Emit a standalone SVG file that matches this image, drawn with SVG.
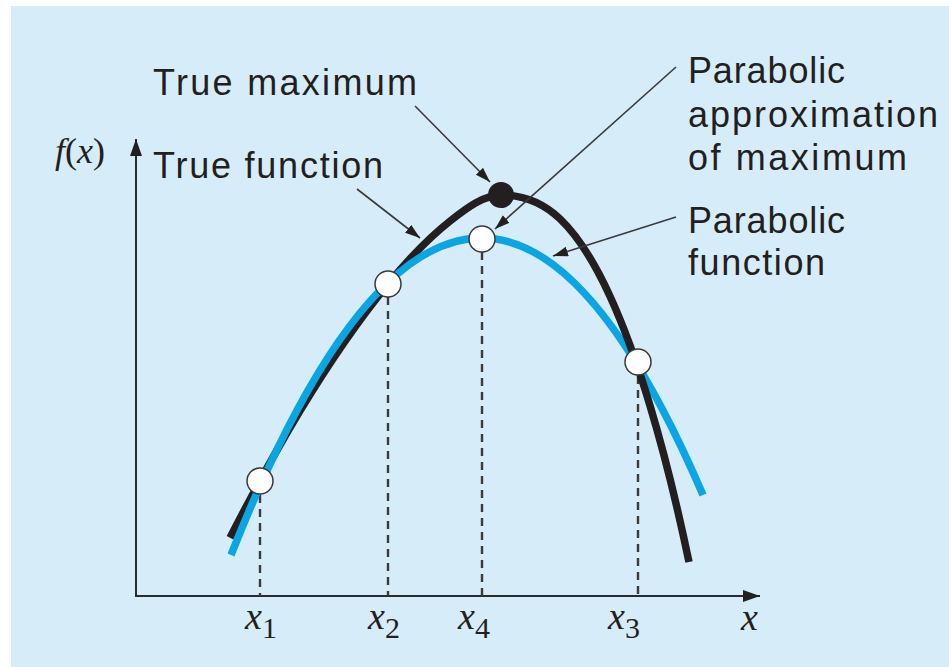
<svg xmlns="http://www.w3.org/2000/svg" width="949" height="667" viewBox="0 0 949 667">
<defs>
<style>
.lbl{font-family:"Liberation Sans",Arial,sans-serif;font-size:36px;fill:#231f20}
.math{font-family:"Liberation Serif","Times New Roman",serif;fill:#231f20}
.axis{stroke:#2a2a2a;stroke-width:2;fill:none}
.dash{stroke:#3a3a3a;stroke-width:2.4;stroke-dasharray:8 6;fill:none}
.ptr{stroke:#3a3a3a;stroke-width:1.6;fill:none}
.pt{fill:#ffffff;stroke:#3a3a3a;stroke-width:1.5}
.true{stroke:#231f20;stroke-width:7.5;fill:none}
.para{stroke:#0aa6e3;stroke-width:7.5;fill:none}
</style>
<marker id="ah" markerUnits="userSpaceOnUse" markerWidth="16" markerHeight="11" refX="15" refY="5" orient="auto">
<path d="M0,0 L15,5 L0,10 z" fill="#231f20"/>
</marker>
<marker id="axh" markerUnits="userSpaceOnUse" markerWidth="18" markerHeight="12" refX="17" refY="6" orient="auto">
<path d="M0,0 L17,6 L0,12 z" fill="#231f20"/>
</marker>
</defs>
<rect x="0" y="0" width="949" height="667" fill="#ffffff"/>
<rect x="11" y="6" width="938" height="661" fill="#d6edf9"/>

<g id="axes">
<line class="axis" x1="136" y1="597" x2="136" y2="139" marker-end="url(#axh)"/>
<line class="axis" x1="135" y1="596" x2="760" y2="596" marker-end="url(#axh)"/>
<text class="math" x="55" y="163" font-size="36"><tspan font-style="italic">f</tspan>(<tspan font-style="italic">x</tspan>)</text>
<text class="math" x="741" y="630" font-size="38" font-style="italic">x</text>
</g>

<g id="dropLines">
<line class="dash" x1="260" y1="495" x2="260" y2="596"/>
<line class="dash" x1="388" y1="297" x2="388" y2="596"/>
<line class="dash" x1="482" y1="252" x2="482" y2="596"/>
<line class="dash" x1="638" y1="376" x2="638" y2="596"/>
</g>

<g id="xLabels">
<text class="math" x="245" y="629" font-size="38"><tspan font-style="italic">x</tspan><tspan font-size="30" dy="9">1</tspan></text>
<text class="math" x="368" y="629" font-size="38"><tspan font-style="italic">x</tspan><tspan font-size="30" dy="9">2</tspan></text>
<text class="math" x="458" y="629" font-size="38"><tspan font-style="italic">x</tspan><tspan font-size="30" dy="9">4</tspan></text>
<text class="math" x="608" y="629" font-size="38"><tspan font-style="italic">x</tspan><tspan font-size="30" dy="9">3</tspan></text>
</g>

<g id="trueFunctionLeft">
<path class="true" d="M230,537.7 C253.33,492.3 276.67,449.4 300,410.8 C329.33,362.3 358.67,319.6 388,284 C408.67,258.9 429.33,237.4 450,221.1 C467,207.7 484,195 501,195"/>
</g>
<g id="parabolicFunction">
<path class="para" d="M231,555 Q356.5,238 482,238 Q592.5,238 703,495"/>
</g>
<g id="trueFunctionRight">
<path class="true" d="M501,195 C520.67,195 540.33,200.2 560,218.9 C576.67,234.8 593.33,259.9 610,296.2 C623.33,325.3 636.67,361.3 650,405.6 C663,448.8 676,499.8 689,562"/>
</g>

<g id="points">
<circle class="pt" cx="260" cy="481" r="13"/>
<circle class="pt" cx="388" cy="284" r="13"/>
<circle class="pt" cx="482" cy="239" r="13"/>
<circle class="pt" cx="638" cy="362" r="13"/>
<circle cx="501" cy="195" r="13" fill="#231f20"/>
</g>

<g id="labels">
<text class="lbl" x="153" y="95" textLength="264" lengthAdjust="spacing">True maximum</text>
<text class="lbl" x="153" y="178" textLength="230" lengthAdjust="spacing">True function</text>
<text class="lbl" x="688" y="83" textLength="157" lengthAdjust="spacing">Parabolic</text>
<text class="lbl" x="688" y="127" textLength="250" lengthAdjust="spacing">approximation</text>
<text class="lbl" x="688" y="170" textLength="219" lengthAdjust="spacing">of maximum</text>
<text class="lbl" x="688" y="233" textLength="157" lengthAdjust="spacing">Parabolic</text>
<text class="lbl" x="688" y="275" textLength="137" lengthAdjust="spacing">function</text>
</g>

<g id="connectors">
<line class="ptr" x1="415" y1="106" x2="490" y2="182" marker-end="url(#ah)"/>
<line class="ptr" x1="357" y1="189" x2="420" y2="238" marker-end="url(#ah)"/>
<line class="ptr" x1="676" y1="67" x2="495" y2="229" marker-end="url(#ah)"/>
<line class="ptr" x1="676" y1="217" x2="553" y2="256" marker-end="url(#ah)"/>
</g>
</svg>
